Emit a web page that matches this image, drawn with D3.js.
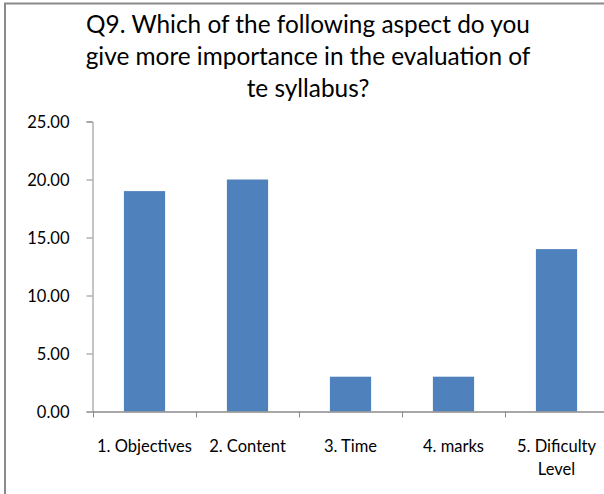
<!DOCTYPE html>
<html><head><meta charset="utf-8">
<script src="https://cdn.jsdelivr.net/npm/d3@7"></script>
<style>html,body{margin:0;padding:0;background:#fff;}svg{display:block;}</style>
</head><body>
<script>
const titleLines = ["Q9. Which of the following aspect do you", "give more importance in the evaluation of", "te syllabus?"];
const categories = ["1. Objectives", "2. Content", "3. Time", "4. marks", "5. Dificulty Level"];
const categoryLines = [["1. Objectives"], ["2. Content"], ["3. Time"], ["4. marks"], ["5. Dificulty", "Level"]];
const values = [19, 20, 3, 3, 14];
const yTicks = [0, 5, 10, 15, 20, 25];

const W = 604, H = 494;
const FONT = "Lato, 'Open Sans', sans-serif";
const svg = d3.select("body").append("svg").attr("width", W).attr("height", H);

// chart border (right/bottom beyond frame)
svg.append("rect").attr("x", 5).attr("y", 3.5).attr("width", 800).attr("height", 700)
  .attr("fill", "#fff").attr("stroke", "#8a8a8a").attr("stroke-width", 2);

function fitSize(text, base, target) {
  const t = svg.append("text").attr("font-family", FONT).attr("font-size", base).text(text);
  const w = t.node().getComputedTextLength();
  t.remove();
  return base * target / w;
}
const titleSize = fitSize(titleLines[0], 21, 444);
const tickSize = fitSize("1. Objectives", 15, 95);

const x0 = 93, x1 = 608, yTop = 121.5, yBot = 411.5;
const x = d3.scaleBand().domain(categories).range([x0, x1]).paddingInner(0.6).paddingOuter(0.3);
const xb = d3.scaleBand().domain(categories).range([x0, x1]).padding(0);
const y = d3.scaleLinear().domain([0, 25]).range([yBot, yTop]);

// title
svg.append("g").selectAll("text").data(titleLines).join("text")
  .attr("x", 308).attr("y", (d, i) => 33 + i * 32)
  .attr("text-anchor", "middle").attr("font-family", FONT).attr("font-size", titleSize)
  .attr("fill", "#000").text(d => d);

// y axis
const yAxis = d3.axisLeft(y).tickValues(yTicks).tickSize(6).tickPadding(17).tickFormat(d3.format(".2f"));
const gy = svg.append("g").attr("transform", `translate(${x0 - 0.5},0)`).call(yAxis);
gy.select(".domain").attr("stroke", "#8a8a8a").attr("stroke-width", 1);
gy.selectAll(".tick line").attr("stroke", "#8a8a8a");
gy.selectAll(".tick text").attr("font-family", FONT).attr("font-size", tickSize).attr("fill", "#000").attr("dy", "0.35em");

// bars
svg.append("g").selectAll("rect").data(values).join("rect")
  .attr("x", (d, i) => x(categories[i]))
  .attr("y", d => y(d))
  .attr("width", x.bandwidth())
  .attr("height", d => yBot - y(d))
  .attr("fill", "#4f81bd");

// x axis line
svg.append("line").attr("x1", x0).attr("x2", x1).attr("y1", yBot + 0.5).attr("y2", yBot + 0.5)
  .attr("stroke", "#8a8a8a").attr("stroke-width", 1.5);
// x tick marks at category boundaries
const bounds = categories.map(c => xb(c)).concat([x1]);
svg.append("g").selectAll("line").data(bounds).join("line")
  .attr("x1", d => Math.round(d) + 0.5).attr("x2", d => Math.round(d) + 0.5)
  .attr("y1", yBot).attr("y2", yBot + 6).attr("stroke", "#8a8a8a");

// x labels
const gl = svg.append("g");
categories.forEach((c, i) => {
  const cx = xb(c) + xb.bandwidth() / 2;
  gl.append("text").attr("x", cx).attr("y", 452).attr("text-anchor", "middle")
    .attr("font-family", FONT).attr("font-size", tickSize).attr("fill", "#000")
    .selectAll("tspan").data(categoryLines[i]).join("tspan")
    .attr("x", cx).attr("dy", (d, j) => j === 0 ? 0 : 23).text(d => d);
});
</script>
</body></html>
